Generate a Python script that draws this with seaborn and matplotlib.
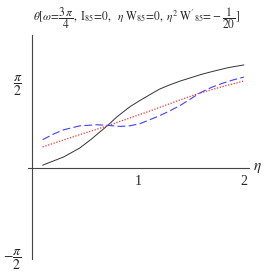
import numpy as np
import pandas as pd
import seaborn as sns
import matplotlib
matplotlib.use("Agg")
import matplotlib.pyplot as plt

# Data
eta_black = [0.1, 0.3, 0.45, 0.56, 0.64, 0.71, 0.8, 0.92, 1.02, 1.11, 1.2, 1.3, 1.4, 1.5, 1.6, 1.7, 1.85, 2.0]
theta_black = [0.05, 0.20, 0.36, 0.52, 0.65, 0.76, 0.92, 1.10, 1.22, 1.32, 1.42, 1.50, 1.57, 1.63, 1.69, 1.74, 1.81, 1.86]

eta_red = [0.1, 0.4, 0.71, 0.92, 1.1, 1.3, 1.4, 1.58, 1.8, 2.0]
theta_red = [0.38, 0.57, 0.76, 0.90, 1.02, 1.16, 1.23, 1.35, 1.47, 1.57]

eta_blue = [0.1, 0.2, 0.3, 0.45, 0.61, 0.71, 0.83, 0.92, 1.02, 1.11, 1.2, 1.3, 1.4, 1.5, 1.58, 1.7, 1.8, 1.9, 2.0]
theta_blue = [0.51, 0.61, 0.69, 0.76, 0.78, 0.77, 0.75, 0.76, 0.80, 0.87, 0.94, 1.03, 1.13, 1.25, 1.35, 1.46, 1.53, 1.59, 1.64]

xtick_vals = [1, 2]
xtick_labels = ["1", "2"]
ytick_vals = [np.pi / 2, -np.pi / 2]
ytick_labels = [r"$\dfrac{\pi}{2}$", r"$-\dfrac{\pi}{2}$"]

sns.set_style("white")
plt.rcParams["font.family"] = ["Liberation Serif", "DejaVu Serif"]
plt.rcParams["mathtext.fontset"] = "stix"

fig = plt.figure(figsize=(2.73, 2.73), dpi=100)
ax = fig.add_axes([0.1018, 0.0513, 0.811, 0.8205])

sns.lineplot(x=eta_black, y=theta_black, ax=ax, color="#333333", lw=0.7, estimator=None)
sns.lineplot(x=eta_red, y=theta_red, ax=ax, color="#ff3030", lw=0.9, estimator=None,
             linestyle=(0, (1, 1.3)))
sns.lineplot(x=eta_blue, y=theta_blue, ax=ax, color="#4040ff", lw=0.8, estimator=None,
             linestyle=(0, (7, 3)))

ax.set_xlim(-0.04, 2.05)
ax.set_ylim(-1.643, 2.40)
for s in ["top", "right"]:
    ax.spines[s].set_visible(False)
ax.spines["left"].set_position(("data", 0))
ax.spines["bottom"].set_position(("data", 0))
for s in ["left", "bottom"]:
    ax.spines[s].set_color("#444444")
    ax.spines[s].set_linewidth(0.8)

ax.set_xticks(xtick_vals)
ax.set_xticklabels(xtick_labels, fontsize=10)
ax.set_yticks(ytick_vals)
ax.set_yticklabels(ytick_labels, fontsize=10)
ax.tick_params(direction="in", length=2.5, width=0.6, color="#444444", pad=5)
ax.tick_params(axis="y", pad=7)

ax.text(2.09, 0.0, r"$\eta$", fontsize=11, ha="left", va="center")

fig.text(0.5, 0.935,
         r"$\theta[\omega\!=\!\dfrac{3\,\pi}{4},\ \mathrm{I}_{85}\!=\!0,\ \ \eta\ \mathrm{W}_{85}\!=\!0,\ \eta^{2}\ \mathrm{W'}_{85}\!=\!-\dfrac{1}{20}]$",
         fontsize=8.3, ha="center", va="center")

fig.savefig("out.png", dpi=100)
